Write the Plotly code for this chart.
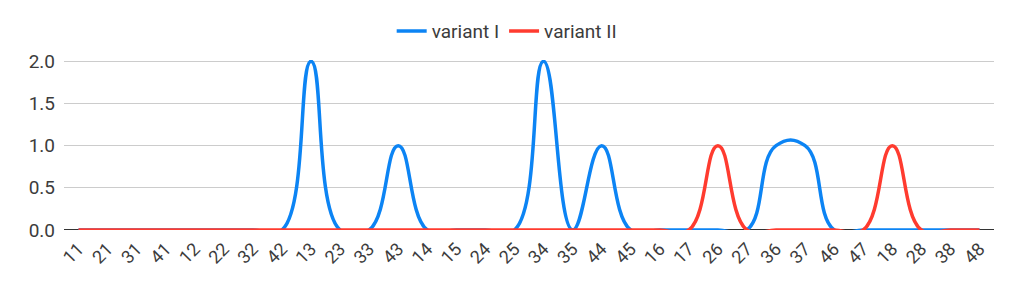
import plotly.graph_objects as go

categories = ["11", "21", "31", "41", "12", "22", "32", "42", "13", "23", "33", "43",
              "14", "15", "24", "25", "34", "35", "44", "45", "16", "17", "26", "27",
              "36", "37", "46", "47", "18", "28", "38", "48"]
variant_1 = [0, 0, 0, 0, 0, 0, 0, 0, 2, 0, 0, 1,
             0, 0, 0, 0, 2, 0, 1, 0, 0, 0, 0, 0,
             1, 1, 0, 0, 0, 0, 0, 0]
variant_2 = [0, 0, 0, 0, 0, 0, 0, 0, 0, 0, 0, 0,
             0, 0, 0, 0, 0, 0, 0, 0, 0, 0, 1, 0,
             0, 0, 0, 0, 1, 0, 0, 0]
y_ticks = [0, 0.5, 1.0, 1.5, 2.0]
y_tick_labels = ["0.0", "0.5", "1.0", "1.5", "2.0"]

BLUE = "#0c84f4"
RED = "#ff3b2f"
FONT = "Roboto, Arial, sans-serif"
TEXT = "#3c3c3c"

fig = go.Figure()
fig.add_trace(go.Scatter(x=list(range(len(categories))), y=variant_1, name="variant I",
                         mode="lines", line=dict(color=BLUE, width=3.5, shape="spline", smoothing=1.3)))
fig.add_trace(go.Scatter(x=list(range(len(categories))), y=variant_2, name="variant II",
                         mode="lines", line=dict(color=RED, width=3.5, shape="spline", smoothing=1.3)))

# page body has an 8px margin, so the figure is sized/offset to compensate
fig.update_layout(
    width=1022, height=278,
    margin=dict(l=56, r=36, t=52, b=56, autoexpand=False),
    paper_bgcolor="white", plot_bgcolor="white",
    font=dict(family=FONT, size=19, color=TEXT),
    showlegend=True,
    legend=dict(orientation="h", x=0.476, xanchor="center", y=0.985, yanchor="top",
                yref="container", font=dict(size=19, color=TEXT),
                bgcolor="rgba(0,0,0,0)", traceorder="normal", itemclick=False),
    xaxis=dict(range=[-0.5, len(categories) - 0.5], tickmode="array",
               tickvals=list(range(len(categories))), ticktext=categories,
               tickangle=-45, showgrid=False, zeroline=False, showline=False,
               ticks="", ticklabelstandoff=4, automargin=False,
               tickfont=dict(size=18, color=TEXT), fixedrange=True),
    yaxis=dict(range=[0, 2.015], tickmode="array", tickvals=y_ticks, ticktext=y_tick_labels,
               showgrid=True, gridcolor="#cccccc", gridwidth=1, zeroline=False,
               showline=False, ticks="", ticklabelstandoff=8, automargin=False,
               tickfont=dict(size=19, color=TEXT), fixedrange=True),
    shapes=[dict(type="line", xref="paper", yref="y", x0=0, x1=1, y0=0, y1=0,
                 line=dict(color="#333333", width=2), layer="below")],
)

fig.write_html("out.html")
